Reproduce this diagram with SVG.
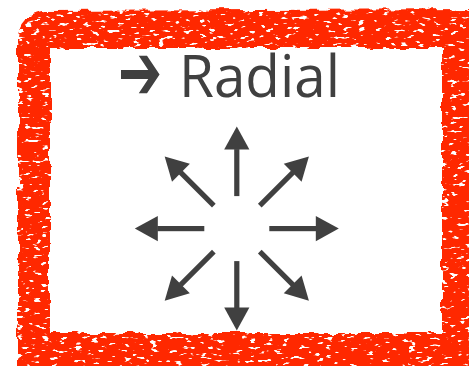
<svg xmlns="http://www.w3.org/2000/svg" width="469" height="366" viewBox="0 0 469 366">
  <style>
    .frame { fill: #FF2800; }
    .arrow { fill: #404040; }
    .title { font-family: "Open Sans", "Liberation Sans", sans-serif; font-size: 59px; fill: #404040; }
    .bullet { font-family: "DejaVu Sans", sans-serif; font-size: 34px; font-weight: bold; fill: #404040; }
  </style>
  <defs>
    <filter id="rough" x="-10%" y="-10%" width="120%" height="120%" color-interpolation-filters="sRGB">
      <feTurbulence type="fractalNoise" baseFrequency="0.07" numOctaves="2" seed="4" result="warp"/>
      <feDisplacementMap in="SourceGraphic" in2="warp" scale="8" xChannelSelector="R" yChannelSelector="G" result="rough"/>
      <feTurbulence type="fractalNoise" baseFrequency="0.12 0.3" numOctaves="2" seed="9" result="noise"/>
      <feColorMatrix in="noise" type="matrix" values="0 0 0 0 0  0 0 0 0 0  0 0 0 0 0  14 0 0 0 -8.8" result="holes"/>
      <feComposite in="rough" in2="holes" operator="out"/>
    </filter>
    <g id="arrowUp">
      <rect x="-2.6" y="-79.5" width="5.2" height="47"/>
      <polygon points="0,-102 -12.6,-79 12.6,-79"/>
    </g>
  </defs>

  <g id="frame">
    <path class="frame" filter="url(#rough)" fill-rule="evenodd"
      d="M 42 11 L 485 9 L 485 385 L 18 385 L 18 36 Q 19 15 42 11 Z
         M 50 48 L 442 48 L 442 333 L 50 333 Z"/>
  </g>

  <g id="title">
    <text class="bullet" transform="translate(118 73.5) scale(1.55 2.3)" x="0" y="11">➔</text>
    <text class="title" x="179" y="97" textLength="161" lengthAdjust="spacingAndGlyphs">Radial</text>
  </g>

  <g id="radial" class="arrow" transform="translate(236.8 228.6)">
    <use href="#arrowUp"/>
    <use href="#arrowUp" transform="rotate(45)"/>
    <use href="#arrowUp" transform="rotate(90)"/>
    <use href="#arrowUp" transform="rotate(135)"/>
    <use href="#arrowUp" transform="rotate(180)"/>
    <use href="#arrowUp" transform="rotate(225)"/>
    <use href="#arrowUp" transform="rotate(270)"/>
    <use href="#arrowUp" transform="rotate(315)"/>
  </g>
</svg>
